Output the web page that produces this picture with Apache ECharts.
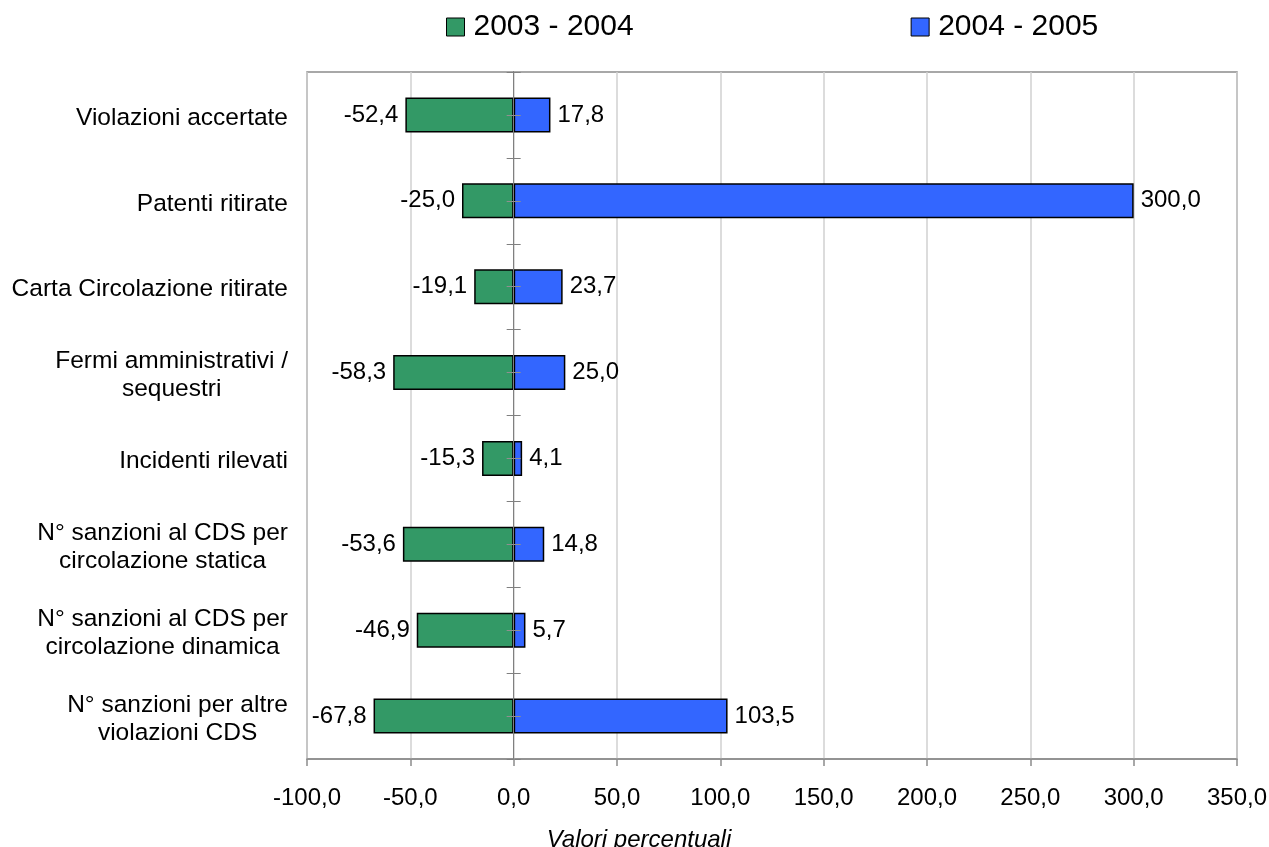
<!DOCTYPE html>
<html>
<head>
<meta charset="utf-8">
<script src="https://cdn.jsdelivr.net/npm/echarts@6/dist/echarts.min.js"></script>
<style>
html,body{margin:0;padding:0;background:#fff;}
#chart{width:1269px;height:847px;}
</style>
</head>
<body>
<div id="chart"></div>
<script>
const categories = [
  'Violazioni accertate',
  'Patenti ritirate',
  'Carta Circolazione ritirate',
  'Fermi amministrativi /\nsequestri',
  'Incidenti rilevati',
  'N° sanzioni al CDS per\ncircolazione statica',
  'N° sanzioni al CDS per\ncircolazione dinamica',
  'N° sanzioni per altre\nviolazioni CDS'
];
const seriesNames = ['2003 - 2004', '2004 - 2005'];
const values2003_2004 = [-52.4, -25.0, -19.1, -58.3, -15.3, -53.6, -46.9, -67.8];
const values2004_2005 = [17.8, 300.0, 23.7, 25.0, 4.1, 14.8, 5.7, 103.5];
const axisMin = -100, axisMax = 350, axisInterval = 50;
const axisName = 'Valori percentuali';

const FONT = 'Liberation Sans, Arial, sans-serif';
const fmt = v => Number(v).toFixed(1).replace('.', ',');

const chart = echarts.init(document.getElementById('chart'));

function hiddenX() {
  return { type: 'value', min: axisMin, max: axisMax, interval: axisInterval, show: false, gridIndex: 0 };
}

function zeroAxis(xIdx, opts) {
  return Object.assign({
    type: 'category',
    data: categories,
    inverse: true,
    position: 'left',
    axisLine: { show: true, onZero: true, onZeroAxisIndex: xIdx, lineStyle: { color: '#808080', width: 1 } },
    axisLabel: { show: false },
    splitLine: { show: false }
  }, opts);
}

chart.setOption({
  animation: false,
  backgroundColor: '#ffffff',
  textStyle: { fontFamily: FONT },
  legend: {
    data: seriesNames,
    left: 441,
    top: 7,
    itemWidth: 18,
    itemHeight: 18,
    itemGap: 277,
    icon: 'rect',
    textStyle: { fontSize: 30, color: '#000', fontFamily: FONT, padding: [0, 0, 0, 4] },
    itemStyle: { borderColor: '#000', borderWidth: 1 }
  },
  grid: {
    left: 307, right: 32, top: 72, bottom: 88,
    outerBoundsMode: 'none',
    show: true, borderColor: '#8c8c8c', borderWidth: 1.5, backgroundColor: 'transparent',
    containLabel: false
  },
  xAxis: [
    {
      type: 'value',
      min: axisMin, max: axisMax, interval: axisInterval,
      name: axisName,
      nameLocation: 'middle',
      nameGap: 69,
      nameTextStyle: { fontSize: 24, fontStyle: 'italic', color: '#000', fontFamily: FONT, padding: [0, 266, 0, 0] },
      axisLine: { show: true, onZero: false, lineStyle: { color: '#8c8c8c', width: 1.5 } },
      axisTick: { show: true, length: 7, lineStyle: { color: '#8c8c8c', width: 1.5 } },
      axisLabel: { fontSize: 24, color: '#000', margin: 27, formatter: fmt, fontFamily: FONT },
      splitLine: { show: true, lineStyle: { color: '#d0d0d0', width: 1.5 } }
    },
    hiddenX(), hiddenX(), hiddenX(), hiddenX()
  ],
  yAxis: [
    {
      type: 'category',
      data: categories,
      inverse: true,
      position: 'left',
      axisLine: { show: false, onZero: false },
      axisTick: { show: false },
      axisLabel: {
        show: true,
        margin: 19,
        color: '#000',
        fontSize: 24.5,
        fontFamily: FONT,
        lineHeight: 28,
        padding: [6, 0, 0, 0],
        formatter: v => v.split('\n').map(l => '{c|' + l + '}').join('\n'),
        rich: { c: { align: 'center', fontSize: 24.5, lineHeight: 28, fontFamily: FONT, color: '#000' } }
      },
      splitLine: { show: false }
    },
    zeroAxis(1, { axisTick: { show: true, inside: false, length: 7, lineStyle: { color: '#808080', width: 1 } } }),
    zeroAxis(2, { axisTick: { show: true, inside: true, length: 7, lineStyle: { color: '#808080', width: 1 } } }),
    zeroAxis(3, { z: 5, axisTick: { show: true, inside: false, alignWithLabel: true, length: 7, lineStyle: { color: '#909090', width: 1 } } }),
    zeroAxis(4, { z: 5, axisTick: { show: true, inside: true, alignWithLabel: true, length: 7, lineStyle: { color: '#909090', width: 1 } } })
  ],
  series: [
    {
      name: seriesNames[0],
      type: 'bar',
      stack: 'total',
      xAxisIndex: 0,
      yAxisIndex: 0,
      data: values2003_2004,
      barWidth: 35,
      itemStyle: { color: '#339966', borderColor: '#000', borderWidth: 1.5 },
      label: { show: true, position: 'left', distance: 7, padding: [8, 0, 0, 0], formatter: p => fmt(p.value), fontSize: 24, color: '#000', fontFamily: FONT }
    },
    {
      name: seriesNames[1],
      type: 'bar',
      stack: 'total',
      xAxisIndex: 0,
      yAxisIndex: 0,
      data: values2004_2005,
      barWidth: 35,
      itemStyle: { color: '#3366ff', borderColor: '#000', borderWidth: 1.5 },
      label: { show: true, position: 'right', distance: 7, padding: [8, 0, 0, 0], formatter: p => fmt(p.value), fontSize: 24, color: '#000', fontFamily: FONT }
    }
  ]
});
</script>
</body>
</html>
